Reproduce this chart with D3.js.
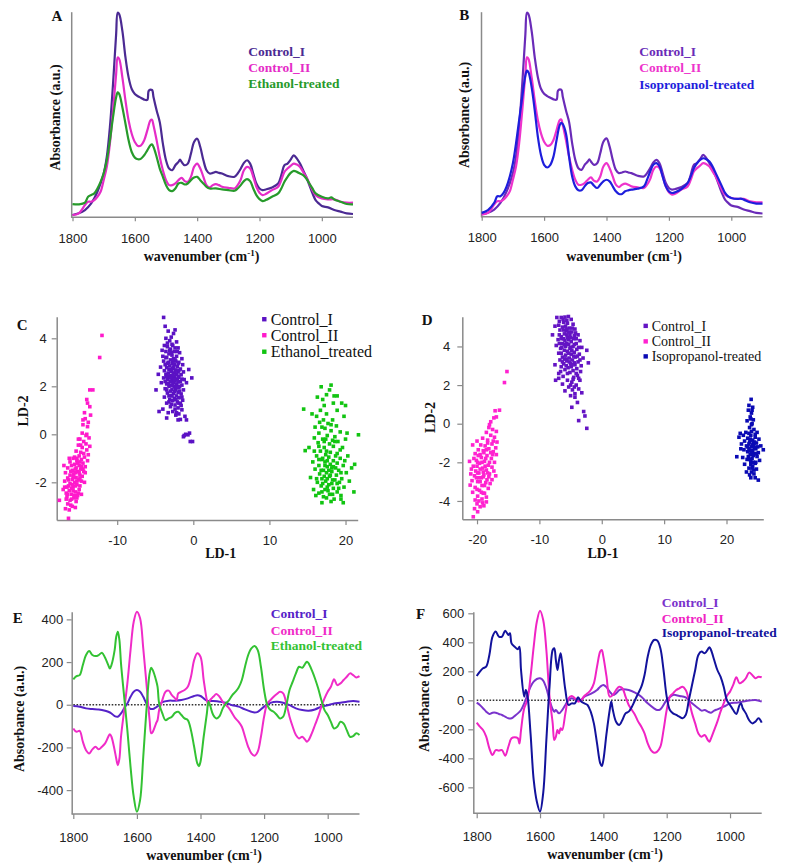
<!DOCTYPE html>
<html><head><meta charset="utf-8">
<script src="https://cdn.jsdelivr.net/npm/d3@7"></script>
<style>html,body{margin:0;padding:0;background:#fff;} svg{display:block;}</style>
</head><body>
<svg id="chart" width="798" height="865"></svg>
<script>
// ---------------- DATA ----------------
const wavenumberTicks = [1800, 1600, 1400, 1200, 1000];
const cXTicks = [-10, 0, 10, 20];
const cYTicks = [-2, 0, 2, 4];
const dXTicks = [-20, -10, 0, 10, 20];
const dYTicks = [-4, -2, 0, 2, 4];
const eYTicks = [-400, -200, 0, 200, 400];
const fYTicks = [-600, -400, -200, 0, 200, 400, 600];

const namesEthanol = ["Control_I", "Control_II", "Ethanol-treated"];
const namesIsopropanol = ["Control_I", "Control_II", "Isopropanol-treated"];
const namesScatterC = ["Control_I", "Control_II", "Ethanol_treated"];

// Mean spectra (absorbance, arbitrary units)  [wavenumber, absorbance]
const spectraControl1 = [[1800,7],[1780,12],[1760,22],[1740,42],[1720,77],[1700,132],[1690,182],[1680,272],[1670,402],[1660,552],[1655,617],[1650,612],[1640,562],[1630,482],[1620,422],[1610,387],[1600,372],[1590,365],[1580,360],[1570,355],[1560,354],[1555,382],[1545,384],[1540,362],[1530,322],[1520,287],[1510,222],[1500,172],[1490,147],[1480,142],[1470,157],[1460,167],[1455,174],[1450,167],[1440,157],[1430,162],[1420,192],[1410,227],[1400,237],[1390,212],[1380,172],[1370,142],[1360,132],[1350,134],[1340,137],[1330,134],[1320,132],[1300,124],[1280,122],[1270,132],[1260,147],[1250,164],[1240,172],[1230,162],[1220,132],[1210,102],[1200,87],[1190,82],[1180,84],[1160,90],[1140,102],[1130,127],[1120,157],[1110,162],[1100,174],[1090,187],[1080,177],[1070,162],[1060,142],[1050,122],[1040,97],[1030,72],[1020,52],[1010,42],[1000,34],[980,30],[960,22],[940,17],[920,12],[900,10]];
const spectraControl2 = [[1800,7],[1780,12],[1760,37],[1750,47],[1740,47],[1730,52],[1720,62],[1710,77],[1700,112],[1690,152],[1680,222],[1670,322],[1660,432],[1655,482],[1650,477],[1640,422],[1630,352],[1620,292],[1610,252],[1600,227],[1590,215],[1580,217],[1570,232],[1560,262],[1550,292],[1545,294],[1540,277],[1530,232],[1520,182],[1510,142],[1500,112],[1490,97],[1480,97],[1470,102],[1460,112],[1450,119],[1440,109],[1430,107],[1420,122],[1410,152],[1400,162],[1390,147],[1380,122],[1370,97],[1360,90],[1350,97],[1340,100],[1330,97],[1320,92],[1300,89],[1280,87],[1270,97],[1260,114],[1250,142],[1240,152],[1230,147],[1220,122],[1210,92],[1200,74],[1190,67],[1180,70],[1160,82],[1140,92],[1130,112],[1120,137],[1110,147],[1100,155],[1090,162],[1080,159],[1070,152],[1060,137],[1050,122],[1040,102],[1030,82],[1020,67],[1000,57],[980,54],[960,54],[940,47],[920,44],[900,44]];
const spectraEthanol = [[1800,40],[1780,39],[1760,44],[1750,62],[1740,67],[1730,72],[1720,87],[1710,107],[1700,132],[1690,172],[1680,232],[1670,302],[1660,362],[1655,377],[1650,372],[1640,332],[1630,282],[1620,232],[1610,197],[1600,180],[1590,175],[1580,177],[1570,187],[1560,202],[1550,217],[1545,220],[1540,212],[1530,182],[1520,147],[1510,122],[1500,97],[1490,82],[1480,79],[1470,87],[1460,102],[1450,104],[1440,99],[1430,102],[1420,112],[1410,120],[1400,122],[1390,112],[1380,102],[1370,92],[1360,87],[1340,87],[1320,84],[1300,82],[1280,80],[1270,87],[1260,97],[1250,109],[1240,115],[1230,109],[1220,87],[1210,67],[1200,55],[1190,49],[1180,52],[1160,62],[1140,72],[1130,87],[1120,107],[1110,122],[1100,134],[1090,140],[1080,137],[1070,132],[1060,127],[1050,117],[1040,102],[1030,87],[1020,72],[1000,62],[980,57],[970,60],[960,54],[940,47],[920,40],[900,39]];
const spectraIsopropanol = [[1800,12],[1780,20],[1760,42],[1750,62],[1740,62],[1730,72],[1720,92],[1710,122],[1700,162],[1690,222],[1680,292],[1670,362],[1660,427],[1655,442],[1650,437],[1640,392],[1630,322],[1620,242],[1610,187],[1600,157],[1590,149],[1580,157],[1570,182],[1560,232],[1550,277],[1545,284],[1540,280],[1530,252],[1520,182],[1510,122],[1500,92],[1490,80],[1480,80],[1470,92],[1460,102],[1450,104],[1440,94],[1430,87],[1420,97],[1410,107],[1400,112],[1390,107],[1380,92],[1370,77],[1360,69],[1350,69],[1340,77],[1330,80],[1320,82],[1300,85],[1280,92],[1270,112],[1260,137],[1250,157],[1240,162],[1230,152],[1220,122],[1210,92],[1200,77],[1190,72],[1180,74],[1160,84],[1140,102],[1130,122],[1120,147],[1110,162],[1100,172],[1090,177],[1080,174],[1070,167],[1060,152],[1050,132],[1040,112],[1030,92],[1020,72],[1010,62],[1000,57],[980,54],[970,55],[960,52],[940,44],[920,40],[900,40]];

// LDA scores [LD-1, LD-2]
const ldaC_control1 = [[-3.9,4.87],[-3.7,4.5],[-3.3,4.3],[-2.4,4.35],[-2.6,4.2],[-2.9,4.05],[-3.6,4.0],[-3.1,3.9],[-2.2,3.85],[-3.8,3.7],[-3.4,3.65],[-2.7,3.7],[-2.0,3.6],[-3.0,3.55],[-4.1,3.5],[-3.6,3.45],[-2.5,3.45],[-1.8,3.4],[-3.2,3.35],[-2.8,3.3],[-4.0,3.25],[-2.2,3.25],[-3.5,3.2],[-1.5,3.15],[-2.6,3.15],[-3.0,3.1],[-3.9,3.05],[-2.3,3.05],[-1.9,3.0],[-3.3,3.0],[-2.8,2.95],[-3.7,2.9],[-1.4,2.9],[-2.5,2.9],[-3.1,2.85],[-2.1,2.82],[-4.3,2.8],[-3.5,2.78],[-2.7,2.75],[-1.7,2.72],[-3.0,2.7],[-2.3,2.68],[-0.6,2.7],[-3.8,2.65],[-2.9,2.62],[-2.0,2.6],[-1.3,2.6],[-3.3,2.55],[-2.6,2.55],[-4.6,2.5],[-3.6,2.5],[-2.2,2.5],[-1.6,2.48],[-2.9,2.45],[-3.2,2.42],[-2.5,2.4],[-1.9,2.38],[-0.2,2.35],[-3.9,2.35],[-2.7,2.32],[-2.1,2.3],[-3.4,2.28],[-1.2,2.28],[-2.8,2.25],[-2.4,2.22],[-3.0,2.2],[-1.7,2.2],[-4.2,2.15],[-2.6,2.15],[-0.9,2.15],[-3.5,2.1],[-2.2,2.08],[-2.9,2.05],[-1.5,2.05],[-3.2,2.0],[-2.5,1.98],[-1.9,1.95],[-4.9,1.85],[-3.7,1.9],[-2.8,1.88],[-2.3,1.85],[-1.3,1.85],[-3.0,1.8],[-2.0,1.75],[-3.4,1.72],[-2.6,1.7],[-1.6,1.68],[-2.9,1.62],[-2.2,1.6],[-3.8,1.55],[-1.9,1.52],[-2.5,1.5],[-3.1,1.45],[-1.4,1.42],[-2.7,1.4],[-2.1,1.35],[-3.5,1.3],[-1.7,1.28],[-2.4,1.22],[-3.0,1.15],[-2.0,1.1],[-4.0,1.05],[-1.5,1.02],[-2.7,0.95],[-3.3,0.9],[-4.5,0.95],[-1.9,0.85],[-2.3,0.8],[-3.5,0.68],[-1.1,0.75],[-1.7,0.62],[-2.0,0.6],[-0.9,0.6],[-1.2,-0.05],[-1.0,0.0],[-0.7,-0.02],[-0.5,0.05],[-0.4,-0.3],[-0.1,-0.3],[-1.3,-0.1],
  [-3.4,3.8],[-2.8,3.75],[-2.4,3.6],[-3.1,3.5],[-2.1,3.45],[-2.9,3.4],[-3.6,3.2],[-2.4,3.1],[-2.7,3.05],[-3.4,2.95],[-2.0,2.95],[-2.6,2.8],[-3.2,2.7],[-1.9,2.65],[-2.4,2.6],[-3.5,2.4],[-2.7,2.45],[-2.0,2.42],[-3.0,2.35],[-1.5,2.3],[-2.5,2.28],[-3.7,2.2],[-2.0,2.18],[-3.3,2.12],[-2.7,2.05],[-1.8,2.0],[-2.3,1.95],[-3.5,1.85],[-1.8,1.8],[-2.5,1.78],[-3.2,1.6],[-1.5,1.55],[-2.3,1.45],[-1.9,1.3],[-2.9,1.25],[-2.4,1.05],[-1.6,1.2],[-3.2,1.35],[-2.2,0.9],[-2.8,1.6]];
const ldaC_control2 = [[-12.0,4.12],[-12.3,3.2],[-13.6,1.85],[-13.2,1.85],[-14.0,1.45],[-13.9,1.3],[-13.6,1.15],[-14.3,0.9],[-14.2,0.65],[-13.8,0.5],[-13.9,0.32],[-14.5,0.4],[-14.6,0.05],[-14.1,-0.05],[-13.7,-0.15],[-14.9,-0.2],[-14.4,-0.3],[-15.1,-0.45],[-13.6,-0.5],[-14.6,-0.55],[-14.0,-0.65],[-15.4,-0.7],[-14.8,-0.75],[-13.8,-0.85],[-15.0,-0.9],[-14.3,-0.95],[-15.8,-1.0],[-14.7,-1.05],[-15.3,-1.1],[-13.9,-1.1],[-16.2,-1.15],[-14.5,-1.2],[-15.6,-1.25],[-15.0,-1.3],[-14.2,-1.35],[-16.5,-1.4],[-15.4,-1.4],[-14.8,-1.45],[-15.9,-1.5],[-14.4,-1.55],[-15.2,-1.55],[-16.8,-1.6],[-15.7,-1.65],[-14.9,-1.7],[-16.2,-1.7],[-14.6,-1.75],[-15.4,-1.8],[-16.5,-1.82],[-15.9,-1.88],[-15.1,-1.9],[-14.7,-1.95],[-16.9,-1.95],[-15.6,-2.0],[-16.2,-2.05],[-15.3,-2.1],[-14.9,-2.15],[-16.6,-2.2],[-15.8,-2.2],[-15.0,-2.3],[-16.3,-2.35],[-15.5,-2.4],[-17.1,-2.3],[-16.0,-2.5],[-15.2,-2.55],[-16.6,-2.6],[-15.7,-2.65],[-16.2,-2.75],[-15.4,-2.8],[-17.6,-2.75],[-16.5,-2.9],[-15.9,-3.0],[-15.5,-3.05],[-16.8,-3.1],[-16.3,-3.15],[-16.4,-3.5],[-16.0,-1.3],[-15.1,-0.2],[-14.3,-2.0],[-15.5,-1.6],[-16.0,-2.25],[-15.3,-1.0],[-14.5,-1.45],[-16.7,-2.45],[-15.8,-1.75],
  [-15.2,-1.2],[-14.7,-1.35],[-15.5,-1.45],[-16.1,-1.55],[-15.0,-1.6],[-15.7,-1.8],[-14.9,-1.85],[-16.4,-1.9],[-15.3,-1.95],[-15.9,-2.1],[-15.5,-2.15],[-16.4,-2.15],[-15.1,-2.45],[-15.8,-2.35],[-16.5,-2.5],[-15.6,-2.55],[-16.0,-2.7],[-15.3,-2.65],[-16.7,-2.7],[-16.1,-2.95],[-14.1,-0.4],[-14.8,-0.45],[-14.4,-0.8],[-15.6,-0.95],[-14.9,-1.15],[-14.2,-1.6],[-14.0,0.0],[-14.5,0.6],[-13.5,0.8],[-14.7,-2.5],[-16.9,-2.2],[-17.0,-1.3],[-16.3,-1.0]];
const ldaC_ethanol = [[16.8,1.98],[18.1,2.05],[17.9,1.85],[18.5,1.6],[16.3,1.55],[17.0,1.45],[18.4,1.3],[19.5,1.3],[14.5,1.05],[16.7,1.0],[18.9,1.0],[17.5,0.85],[16.2,0.75],[19.8,0.75],[17.1,0.6],[18.3,0.6],[16.6,0.5],[17.7,0.45],[18.8,0.35],[16.0,0.3],[17.3,0.25],[18.1,0.15],[19.3,0.1],[16.5,0.05],[17.6,-0.05],[20.2,0.05],[21.7,-0.02],[18.6,-0.1],[15.9,-0.15],[17.0,-0.2],[19.0,-0.3],[16.4,-0.35],[17.9,-0.4],[18.4,-0.5],[15.2,-0.55],[17.2,-0.55],[19.6,-0.55],[14.7,-0.68],[16.7,-0.7],[18.0,-0.75],[18.9,-0.8],[17.4,-0.85],[16.2,-0.9],[20.3,-0.9],[17.8,-0.95],[19.3,-1.0],[16.9,-1.05],[18.4,-1.1],[15.7,-1.15],[17.3,-1.15],[21.2,-1.25],[18.0,-1.25],[19.7,-1.3],[16.5,-1.3],[17.6,-1.35],[18.7,-1.4],[16.0,-1.45],[17.1,-1.5],[19.1,-1.5],[18.2,-1.55],[17.5,-1.6],[20.1,-1.6],[16.6,-1.65],[18.8,-1.7],[17.9,-1.75],[15.4,-1.8],[16.9,-1.85],[19.5,-1.85],[18.3,-1.9],[17.4,-1.95],[20.5,-1.95],[16.3,-2.0],[18.9,-2.05],[17.8,-2.1],[16.8,-2.15],[19.8,-2.2],[18.4,-2.25],[15.8,-2.3],[17.3,-2.3],[21.1,-2.4],[18.9,-2.4],[16.5,-2.45],[17.9,-2.5],[19.4,-2.55],[17.1,-2.6],[18.5,-2.7],[16.9,-2.85],[19.7,-2.85],[18.1,-2.8],[17.6,-2.2],[18.6,-0.3],[17.0,-1.0],[19.9,-1.1],[16.1,-2.55],[18.2,-1.4],[17.2,-0.3],[15.6,0.85],[20.0,1.2],
  [17.2,1.2],[18.9,1.6],[17.5,1.65],[16.9,0.3],[18.1,0.4],[17.4,-0.2],[18.3,-0.25],[16.5,-0.5],[19.3,-0.65],[17.5,-0.7],[18.7,-0.9],[16.5,-1.05],[17.6,-1.1],[18.9,-1.2],[17.3,-1.3],[18.4,-1.35],[16.8,-1.5],[17.8,-1.5],[19.4,-1.6],[18.0,-1.7],[17.2,-1.75],[16.2,-1.85],[18.6,-1.9],[17.6,-1.85],[19.2,-2.0],[17.0,-2.05],[18.2,-2.05],[19.1,-2.25],[17.7,-2.35],[16.9,-2.4],[18.3,-2.5],[20.8,-1.4],[15.9,-0.7],[20.0,-0.2],[19.4,-2.7],[17.5,-2.65]];
const ldaD_control1 = [[-7.2,5.5],[-6.5,5.5],[-5.9,5.52],[-5.35,5.55],[-4.9,5.4],[-6.8,5.3],[-6.1,5.25],[-5.5,5.2],[-4.6,5.15],[-7.5,5.05],[-6.3,5.0],[-5.2,4.95],[-4.3,4.9],[-6.7,4.85],[-5.7,4.8],[-4.8,4.75],[-7.9,4.6],[-6.0,4.65],[-5.1,4.6],[-3.8,4.6],[-6.5,4.5],[-5.5,4.45],[-4.5,4.4],[-7.0,4.35],[-3.5,4.3],[-5.9,4.3],[-4.9,4.25],[-6.3,4.15],[-4.1,4.15],[-5.3,4.1],[-7.3,4.05],[-5.8,4.0],[-4.6,4.0],[-3.2,3.95],[-6.6,3.9],[-5.1,3.9],[-4.0,3.85],[-6.0,3.8],[-5.5,3.75],[-4.4,3.7],[-2.4,3.8],[-6.9,3.65],[-4.9,3.6],[-3.6,3.6],[-5.8,3.55],[-6.3,3.45],[-4.2,3.45],[-5.2,3.4],[-3.0,3.4],[-6.7,3.3],[-4.7,3.3],[-5.6,3.25],[-2.15,3.15],[-3.8,3.2],[-7.5,3.05],[-6.1,3.1],[-5.0,3.1],[-4.3,3.05],[-3.3,3.0],[-6.5,2.95],[-5.4,2.9],[-4.0,2.85],[-5.9,2.8],[-4.6,2.75],[-3.4,2.7],[-6.9,2.6],[-5.1,2.65],[-3.9,2.5],[-6.2,2.45],[-4.5,2.4],[-6.9,2.35],[-7.4,2.25],[-5.5,2.25],[-3.5,2.25],[-4.8,2.15],[-6.3,2.05],[-4.1,2.0],[-5.3,1.9],[-3.7,1.8],[-4.7,1.75],[-5.9,1.7],[-4.3,1.55],[-3.2,1.6],[-5.0,1.45],[-4.3,1.37],[-3.9,1.1],[-4.8,0.85],[-2.9,0.63],[-2.7,0.4],[-3.7,0.16],[-2.4,-0.24],[-5.6,4.9],[-4.2,4.7],[-6.4,4.4],[-5.0,3.95],[-3.7,3.95],[-5.7,3.35],[-4.4,3.15],[-6.0,4.1],[-4.9,2.95],
  [-6.2,5.4],[-5.6,5.35],[-6.9,5.1],[-5.8,5.05],[-4.7,4.95],[-6.1,4.85],[-5.3,4.75],[-6.8,4.6],[-5.6,4.6],[-4.4,4.55],[-5.0,4.45],[-6.1,4.4],[-5.3,4.35],[-4.1,4.4],[-6.8,4.15],[-5.6,4.15],[-4.4,4.1],[-6.4,3.95],[-4.8,3.8],[-5.3,3.65],[-3.9,3.5],[-6.5,3.65],[-6.0,3.35],[-4.5,3.5],[-5.2,3.2],[-3.5,3.3],[-4.8,3.05],[-6.3,3.2],[-5.7,3.0],[-4.1,2.6],[-5.5,2.6],[-3.7,2.35],[-6.6,2.7],[-4.6,2.3],[-5.0,2.0],[-4.4,1.9]];
const ldaD_control2 = [[-15.2,2.7],[-15.6,2.13],[-16.4,0.7],[-17.1,0.67],[-16.9,0.35],[-17.3,0.3],[-17.8,0.1],[-18.1,-0.2],[-17.5,-0.3],[-16.9,-0.4],[-18.5,-0.45],[-17.8,-0.6],[-17.2,-0.7],[-19.1,-0.75],[-18.3,-0.85],[-16.8,-0.95],[-20.0,-0.9],[-17.6,-1.05],[-19.4,-1.1],[-18.7,-1.15],[-20.7,-1.1],[-17.0,-1.25],[-18.1,-1.3],[-19.8,-1.35],[-17.4,-1.45],[-18.9,-1.5],[-20.3,-1.55],[-16.9,-1.6],[-18.4,-1.65],[-19.3,-1.75],[-17.7,-1.8],[-21.2,-1.95],[-20.1,-1.9],[-18.8,-1.95],[-17.2,-2.0],[-19.6,-2.05],[-18.2,-2.15],[-20.6,-2.2],[-17.6,-2.25],[-19.1,-2.3],[-20.2,-2.45],[-18.5,-2.4],[-17.3,-2.45],[-19.7,-2.55],[-21.0,-2.6],[-18.9,-2.65],[-20.4,-2.7],[-18.1,-2.75],[-19.3,-2.8],[-17.6,-2.9],[-20.8,-2.95],[-19.9,-3.0],[-18.6,-3.05],[-21.1,-3.18],[-19.2,-3.2],[-20.3,-3.3],[-18.2,-3.35],[-19.6,-3.45],[-20.7,-3.55],[-18.8,-3.6],[-19.9,-3.75],[-20.3,-3.95],[-19.2,-3.9],[-18.5,-4.05],[-20.0,-4.15],[-18.9,-4.25],[-19.5,-4.3],[-20.4,-4.4],[-19.9,-4.56],[-20.6,-4.82],[-19.0,-2.5],[-19.5,-1.6],[-18.4,-2.9],[-20.0,-2.2],[-17.8,-1.5],[-19.0,-3.6],[-18.0,-2.0],[-19.7,-2.8],
  [-18.3,-1.0],[-19.0,-1.4],[-18.6,-1.8],[-19.9,-2.0],[-18.7,-2.2],[-19.5,-2.35],[-18.3,-2.55],[-19.9,-2.55],[-19.0,-2.75],[-20.1,-2.8],[-18.8,-3.2],[-19.5,-3.0],[-20.0,-3.4],[-19.3,-3.55],[-18.5,-3.8],[-19.7,-4.0],[-18.0,-2.6],[-18.5,-1.35],[-17.5,-1.6],[-19.2,-2.0],[-20.5,-1.8],[-17.9,-3.1],[-19.1,-4.1],[-17.4,-0.9],[-18.0,-0.05],[-17.0,-2.7],[-20.9,-2.35],[-19.8,-1.65]];
const ldaD_isopropanol = [[23.95,1.26],[23.6,0.95],[24.2,0.85],[23.5,0.7],[24.0,0.55],[23.8,0.35],[24.3,0.2],[23.3,0.15],[24.1,0.0],[23.7,-0.2],[24.4,-0.3],[22.2,-0.5],[23.1,-0.45],[24.9,-0.45],[22.7,-0.6],[23.9,-0.6],[24.6,-0.7],[22.0,-0.7],[23.4,-0.75],[25.2,-0.8],[24.2,-0.85],[22.9,-0.9],[23.7,-0.95],[24.8,-1.0],[22.4,-1.05],[24.4,-1.1],[23.2,-1.15],[25.5,-1.15],[24.0,-1.2],[23.6,-1.3],[24.7,-1.3],[22.8,-1.35],[25.9,-1.35],[24.2,-1.4],[23.4,-1.45],[25.1,-1.5],[24.5,-1.55],[23.8,-1.6],[21.65,-1.71],[22.6,-1.75],[24.9,-1.7],[24.1,-1.8],[23.3,-1.85],[25.3,-1.9],[23.9,-1.95],[24.6,-2.05],[22.9,-2.1],[24.2,-2.2],[23.6,-2.3],[24.8,-2.35],[24.0,-2.5],[24.4,-2.6],[23.7,-2.65],[24.6,-2.8],[25.1,-2.92],[24.3,-1.0],[23.9,-1.4],[24.5,-0.95],[23.5,-1.7],[24.7,-2.0],[24.0,-0.4],[23.2,-2.5],[22.3,-1.3],
  [23.8,-0.8],[24.2,-1.1],[24.0,-1.55],[24.5,-1.25],[23.6,-1.05],[24.3,-1.65],[23.9,-2.1],[24.4,-2.4],[23.9,-2.8],[24.8,-1.55],[23.4,-1.2],[24.6,-0.55],[23.6,-0.5],[24.3,-2.0],[23.7,-1.85],[24.1,-2.3],[25.0,-1.2],[24.0,-0.05],[23.9,0.25],[24.1,0.7]];

// LDA loadings [wavenumber, value]
const loadE_control1 = [[1800,-6],[1780,-9],[1760,-17],[1740,-20],[1720,-22],[1700,-28],[1690,-33],[1680,-41],[1670,-53],[1660,-56],[1650,-41],[1640,-17],[1630,6],[1620,37],[1610,61],[1600,69],[1590,61],[1580,37],[1570,6],[1560,-17],[1550,-20],[1540,-12],[1530,-2],[1520,12],[1500,19],[1480,19],[1460,22],[1440,30],[1420,41],[1410,44],[1400,41],[1390,30],[1380,19],[1360,17],[1340,14],[1320,9],[1300,-2],[1280,-9],[1260,-22],[1240,-33],[1230,-36],[1220,-33],[1200,-9],[1180,9],[1160,14],[1140,9],[1120,-2],[1100,-17],[1080,-25],[1060,-28],[1040,-22],[1020,-9],[1000,-2],[980,6],[960,9],[940,14],[920,17],[900,14]];
const loadE_control2 = [[1800,-111],[1790,-127],[1780,-122],[1770,-173],[1760,-213],[1750,-228],[1740,-209],[1730,-197],[1720,-209],[1710,-197],[1700,-181],[1690,-150],[1685,-138],[1680,-150],[1670,-213],[1665,-252],[1660,-283],[1655,-252],[1650,-150],[1640,-25],[1630,100],[1620,256],[1610,389],[1600,436],[1590,405],[1580,264],[1570,100],[1560,-72],[1555,-134],[1550,-127],[1540,-88],[1535,-72],[1530,-25],[1520,22],[1510,61],[1500,66],[1490,45],[1480,30],[1475,22],[1470,53],[1460,61],[1450,69],[1440,84],[1430,131],[1420,209],[1410,241],[1400,225],[1390,116],[1380,22],[1375,-2],[1370,22],[1360,37],[1350,50],[1340,37],[1330,14],[1320,-2],[1310,-17],[1300,-41],[1290,-64],[1280,-80],[1270,-103],[1260,-150],[1250,-197],[1240,-228],[1230,-239],[1220,-220],[1210,-150],[1200,-56],[1190,6],[1180,22],[1170,37],[1160,50],[1150,61],[1140,53],[1130,6],[1120,-56],[1110,-103],[1100,-142],[1090,-158],[1080,-150],[1070,-166],[1065,-173],[1060,-166],[1050,-134],[1040,-95],[1030,-56],[1020,-9],[1010,30],[1000,61],[990,84],[980,119],[970,92],[960,100],[950,116],[940,131],[930,147],[920,139],[910,128],[900,134]];
const loadE_ethanol = [[1800,119],[1790,134],[1780,139],[1770,186],[1760,233],[1750,252],[1740,233],[1730,228],[1720,233],[1710,244],[1700,220],[1690,186],[1685,170],[1680,186],[1670,256],[1665,319],[1660,342],[1655,303],[1650,194],[1640,37],[1630,-119],[1620,-291],[1610,-431],[1600,-502],[1590,-447],[1580,-244],[1570,-25],[1560,147],[1555,173],[1550,162],[1540,116],[1535,84],[1530,6],[1520,-41],[1510,-72],[1500,-64],[1490,-56],[1480,-38],[1470,-33],[1460,-48],[1450,-64],[1440,-72],[1430,-119],[1420,-197],[1410,-275],[1405,-288],[1400,-267],[1390,-150],[1380,-41],[1375,14],[1370,-2],[1360,-48],[1350,-64],[1340,-53],[1330,-17],[1320,6],[1310,22],[1300,45],[1290,61],[1280,81],[1270,116],[1260,178],[1250,233],[1240,264],[1230,275],[1220,256],[1210,178],[1200,69],[1190,-2],[1180,-25],[1170,-33],[1160,-48],[1150,-64],[1140,-56],[1130,-2],[1120,69],[1110,108],[1100,147],[1090,178],[1080,173],[1070,194],[1065,202],[1060,194],[1050,162],[1040,123],[1030,77],[1020,22],[1010,-25],[1000,-48],[990,-80],[980,-111],[970,-103],[960,-80],[950,-88],[940,-119],[930,-150],[920,-147],[910,-134],[900,-142]];
const loadF_control1 = [[1800,-16],[1790,-32],[1780,-55],[1770,-78],[1760,-94],[1750,-85],[1740,-85],[1730,-94],[1720,-101],[1710,-113],[1700,-124],[1690,-124],[1680,-108],[1670,-90],[1660,-67],[1650,-21],[1640,37],[1630,94],[1620,129],[1610,147],[1600,152],[1590,136],[1580,83],[1570,2],[1560,-62],[1555,-78],[1550,-67],[1540,-90],[1530,-67],[1520,-32],[1510,2],[1500,14],[1490,7],[1480,2],[1470,2],[1460,25],[1440,44],[1420,71],[1410,94],[1400,106],[1390,90],[1380,60],[1370,37],[1360,48],[1350,71],[1340,76],[1320,71],[1300,53],[1280,25],[1260,-21],[1240,-55],[1230,-67],[1220,-62],[1200,2],[1180,37],[1160,30],[1140,21],[1120,-21],[1100,-55],[1090,-71],[1080,-67],[1070,-78],[1060,-85],[1050,-71],[1040,-62],[1020,-44],[1000,-21],[980,-16],[960,-9],[940,-2],[920,2],[900,-9]];
const loadF_control2 = [[1800,-154],[1790,-182],[1780,-205],[1770,-251],[1760,-331],[1750,-377],[1740,-343],[1730,-347],[1720,-343],[1710,-382],[1700,-320],[1690,-262],[1680,-255],[1670,-262],[1665,-297],[1660,-205],[1650,-55],[1640,2],[1630,163],[1620,370],[1610,543],[1600,618],[1590,554],[1580,347],[1570,25],[1560,-159],[1555,-274],[1550,-251],[1545,-205],[1540,-228],[1535,-193],[1530,-205],[1520,-90],[1510,14],[1500,30],[1490,14],[1480,-9],[1470,2],[1460,30],[1450,48],[1440,71],[1430,117],[1420,232],[1410,336],[1405,347],[1400,301],[1390,163],[1380,25],[1370,37],[1360,71],[1350,94],[1340,83],[1330,25],[1320,-32],[1310,-67],[1300,-101],[1290,-147],[1280,-182],[1270,-228],[1260,-297],[1250,-343],[1240,-361],[1230,-354],[1220,-320],[1210,-205],[1200,-67],[1190,25],[1180,48],[1170,71],[1160,83],[1150,94],[1140,71],[1130,2],[1120,-90],[1110,-159],[1100,-228],[1090,-251],[1080,-239],[1070,-274],[1065,-285],[1060,-262],[1050,-205],[1040,-147],[1030,-78],[1020,-21],[1010,30],[1000,60],[990,106],[980,159],[970,117],[960,129],[950,152],[940,191],[930,175],[920,152],[910,163],[900,159]];
const loadF_isopropanol = [[1800,168],[1790,198],[1780,221],[1770,232],[1760,313],[1750,439],[1740,474],[1730,439],[1720,439],[1710,480],[1700,451],[1695,462],[1690,393],[1680,370],[1670,352],[1665,370],[1660,209],[1650,25],[1645,71],[1640,37],[1630,-228],[1620,-549],[1610,-700],[1600,-768],[1590,-640],[1580,-274],[1570,94],[1560,347],[1555,359],[1550,278],[1545,209],[1540,278],[1535,324],[1530,255],[1520,71],[1510,-32],[1500,-21],[1490,-21],[1480,21],[1470,-9],[1460,-21],[1450,-32],[1440,-78],[1430,-159],[1420,-297],[1410,-434],[1405,-453],[1400,-412],[1390,-228],[1380,-67],[1375,-9],[1370,-67],[1360,-147],[1350,-170],[1340,-136],[1330,-90],[1320,-78],[1310,-44],[1300,2],[1290,48],[1280,94],[1270,175],[1260,301],[1250,382],[1240,416],[1230,412],[1220,359],[1210,209],[1200,25],[1190,-67],[1180,-90],[1170,-101],[1160,-113],[1150,-124],[1140,-101],[1130,2],[1120,106],[1110,209],[1100,313],[1090,336],[1080,324],[1070,352],[1065,366],[1060,347],[1050,278],[1040,209],[1030,163],[1020,94],[1010,2],[1000,-32],[990,-67],[980,-94],[970,-32],[965,-21],[960,-55],[950,-90],[940,-136],[930,-159],[920,-147],[910,-124],[900,-154]];

// ---------------- DRAWING ----------------
const svg = d3.select("#chart");
const SERIF = "'Liberation Serif','Times New Roman',Times,serif";
const SANS = "'Liberation Sans',Arial,Helvetica,sans-serif";
const AXIS_COLOR = "#8a8a8a";

function styleAxis(g) {
  g.select(".domain").attr("stroke", AXIS_COLOR).attr("stroke-width", 1.5);
  g.selectAll(".tick line").attr("stroke", AXIS_COLOR).attr("stroke-width", 1.2);
  g.selectAll(".tick text").attr("fill", "#222").style("font-family", SANS).style("font-size", "13px");
}
function txt(t, x, y, opts) {
  const el = svg.append("text").attr("x", x).attr("y", y).text(t)
    .style("font-family", opts.family || SERIF)
    .style("font-weight", opts.bold ? "bold" : "normal")
    .style("font-size", (opts.size || 14) + "px")
    .attr("fill", opts.color || "#111");
  if (opts.anchor) el.attr("text-anchor", opts.anchor);
  return el;
}
function rotTitle(t, x, cy, size) {
  svg.append("text").attr("transform", `translate(${x},${cy}) rotate(-90)`)
    .attr("text-anchor", "middle").text(t)
    .style("font-family", SERIF).style("font-weight", "bold").style("font-size", size + "px").attr("fill", "#111");
}
function wavenumberTitle(cx, y) {
  const t = svg.append("text").attr("x", cx).attr("y", y).attr("text-anchor", "middle")
    .style("font-family", SERIF).style("font-weight", "bold").style("font-size", "14px").attr("fill", "#111");
  t.append("tspan").text("wavenumber (cm");
  t.append("tspan").attr("dy", -5).style("font-size", "9px").text("-1");
  t.append("tspan").attr("dy", 5).text(")");
}
const fmt = d => String(d);

function linePanel(p) {
  const x = d3.scaleLinear().domain([1800, 900]).range(p.xr);
  const y = d3.scaleLinear().domain(p.yDomain).range(p.yr);
  const gx = svg.append("g").attr("transform", `translate(0,${p.yr[0]})`)
    .call(d3.axisBottom(x).tickValues(wavenumberTicks).tickSizeInner(p.tick).tickSizeOuter(0).tickPadding(p.xPad).tickFormat(fmt));
  styleAxis(gx);
  gx.select(".domain").attr("d", `M${p.yAxisX},0H${p.xr[1]}`);
  const gy = svg.append("g").attr("transform", `translate(${p.yAxisX},0)`)
    .call(d3.axisLeft(y).tickValues(p.yTicks || []).tickSizeInner(p.tick).tickSizeOuter(0).tickPadding(p.yPad || 4).tickFormat(fmt));
  styleAxis(gy);
  if (p.zeroLine) {
    svg.append("line").attr("x1", x(1800)).attr("x2", x(900)).attr("y1", y(0)).attr("y2", y(0))
      .attr("stroke", "#333").attr("stroke-width", 1.6).attr("stroke-dasharray", "1.6,1.6");
  }
  const line = d3.line().x(d => x(d[0])).y(d => y(d[1])).curve(d3.curveCatmullRom.alpha(0.5));
  p.series.forEach(s => {
    svg.append("path").datum(s.data).attr("d", line).attr("fill", "none")
      .attr("stroke", s.color).attr("stroke-width", p.lw).attr("stroke-linejoin", "round");
  });
  p.series.forEach((s, i) => {
    txt(s.name, p.legX, p.legY[i], { bold: true, size: 13.5, color: s.color });
  });
}

function scatterPanel(p) {
  const x = d3.scaleLinear().domain(p.xDomain).range(p.xr);
  const y = d3.scaleLinear().domain(p.yDomain).range(p.yr);
  const gx = svg.append("g").attr("transform", `translate(0,${p.yr[0]})`)
    .call(d3.axisBottom(x).tickValues(p.xTicks).tickSizeInner(5).tickSizeOuter(0).tickPadding(p.xPad).tickFormat(fmt));
  styleAxis(gx);
  const gy = svg.append("g").attr("transform", `translate(${p.xr[0]},0)`)
    .call(d3.axisLeft(y).tickValues(p.yTicks).tickSizeInner(5).tickSizeOuter(0).tickPadding(p.yPad).tickFormat(fmt));
  styleAxis(gy);
  const sz = 3.6;
  p.series.forEach(s => {
    svg.append("g").selectAll("rect").data(s.data).join("rect")
      .attr("x", d => x(d[0]) - sz / 2).attr("y", d => y(d[1]) - sz / 2)
      .attr("width", sz).attr("height", sz).attr("fill", s.color);
  });
  p.series.forEach((s, i) => {
    svg.append("rect").attr("x", p.legSqX - 2.2).attr("y", p.legY[i] - p.legFont * 0.33 - 2.2)
      .attr("width", 4.4).attr("height", 4.4).attr("fill", s.color);
    txt(s.name, p.legX, p.legY[i], { size: p.legFont, color: "#111" });
  });
}

// Panel A
linePanel({
  xr: [72.5, 353], yr: [217.3, 11.7], yDomain: [0, 620], yAxisX: 71.2, tick: 4, xPad: 12, lw: 2.2,
  series: [
    { data: spectraControl1, color: "#4b2a93", name: namesEthanol[0] },
    { data: spectraControl2, color: "#e52cc7", name: namesEthanol[1] },
    { data: spectraEthanol, color: "#279a2b", name: namesEthanol[2] }
  ],
  legX: 248.3, legY: [56, 71.5, 87.5]
});
txt("A", 51.5, 20.7, { bold: true, size: 15 });
wavenumberTitle(201.5, 261);
rotTitle("Absorbance (a.u.)", 60, 117.5, 14);

// Panel B
linePanel({
  xr: [481.7, 762.5], yr: [216.8, 11.7], yDomain: [0, 620], yAxisX: 481, tick: 4, xPad: 12, lw: 2.2,
  series: [
    { data: spectraControl1, color: "#6a2bb8", name: namesIsopropanol[0] },
    { data: spectraControl2, color: "#ee33cc", name: namesIsopropanol[1] },
    { data: spectraIsopropanol, color: "#1e1edc", name: namesIsopropanol[2] }
  ],
  legX: 639.3, legY: [56, 72, 88.5]
});
txt("B", 459.3, 20.3, { bold: true, size: 15 });
wavenumberTitle(624, 261);
rotTitle("Absorbance (a.u.)", 469, 115, 14);

// Panel C
scatterPanel({
  xDomain: [-17.95, 21.6], xr: [56.7, 357.7], yDomain: [-3.57, 4.9], yr: [520, 316.7],
  xTicks: cXTicks, yTicks: cYTicks, xPad: 11, yPad: 5,
  series: [
    { data: ldaC_control1, color: "#5b12c4", name: namesScatterC[0] },
    { data: ldaC_control2, color: "#ff1acb", name: namesScatterC[1] },
    { data: ldaC_ethanol, color: "#11c411", name: namesScatterC[2] }
  ],
  legSqX: 264.3, legX: 270.7, legY: [324.5, 340.5, 357], legFont: 16
});
txt("C", 16.7, 330, { bold: true, size: 15 });
txt("LD-1", 220.7, 558, { bold: true, size: 14, anchor: "middle" });
rotTitle("LD-2", 28, 411, 14);

// Panel D
scatterPanel({
  xDomain: [-22.36, 25.9], xr: [462.3, 763.3], yDomain: [-4.95, 5.54], yr: [519.3, 316.7],
  xTicks: dXTicks, yTicks: dYTicks, xPad: 10.5, yPad: 7,
  series: [
    { data: ldaD_control1, color: "#6414c4", name: namesIsopropanol[0] },
    { data: ldaD_control2, color: "#ff22d0", name: namesIsopropanol[1] },
    { data: ldaD_isopropanol, color: "#0a0ab4", name: namesIsopropanol[2] }
  ],
  legSqX: 645.7, legX: 651.7, legY: [330.5, 346, 361], legFont: 14
});
txt("D", 421.7, 325, { bold: true, size: 15 });
txt("LD-1", 603, 558, { bold: true, size: 14, anchor: "middle" });
rotTitle("LD-2", 435, 417.5, 14);

// Panel E
linePanel({
  xr: [73.3, 359.5], yr: [814, 611.7], yDomain: [-512, 436], yAxisX: 71.7, tick: 5, xPad: 14, yPad: 3.5, lw: 2,
  yTicks: eYTicks, zeroLine: true,
  series: [
    { data: loadE_control1, color: "#5522c8", name: namesEthanol[0] },
    { data: loadE_control2, color: "#f02cc8", name: namesEthanol[1] },
    { data: loadE_ethanol, color: "#33c233", name: namesEthanol[2] }
  ],
  legX: 270.7, legY: [618, 634.5, 649.5]
});
txt("E", 12.7, 623, { bold: true, size: 15 });
wavenumberTitle(204, 860);
rotTitle("Absorbance (a.u.)", 24, 719, 14);

// Panel F
linePanel({
  xr: [476.7, 761.7], yr: [813.3, 611.7], yDomain: [-779, 611], yAxisX: 473.3, tick: 5, xPad: 13, yPad: 4, lw: 2,
  yTicks: fYTicks, zeroLine: true,
  series: [
    { data: loadF_control1, color: "#7a33cc", name: namesIsopropanol[0] },
    { data: loadF_control2, color: "#f024c4", name: namesIsopropanol[1] },
    { data: loadF_isopropanol, color: "#12129c", name: namesIsopropanol[2] }
  ],
  legX: 661.7, legY: [607, 622.5, 636.5]
});
txt("F", 416, 619.3, { bold: true, size: 15 });
wavenumberTitle(605, 858.5);
rotTitle("Absorbance (a.u.)", 429, 699, 14);
</script>
</body></html>
